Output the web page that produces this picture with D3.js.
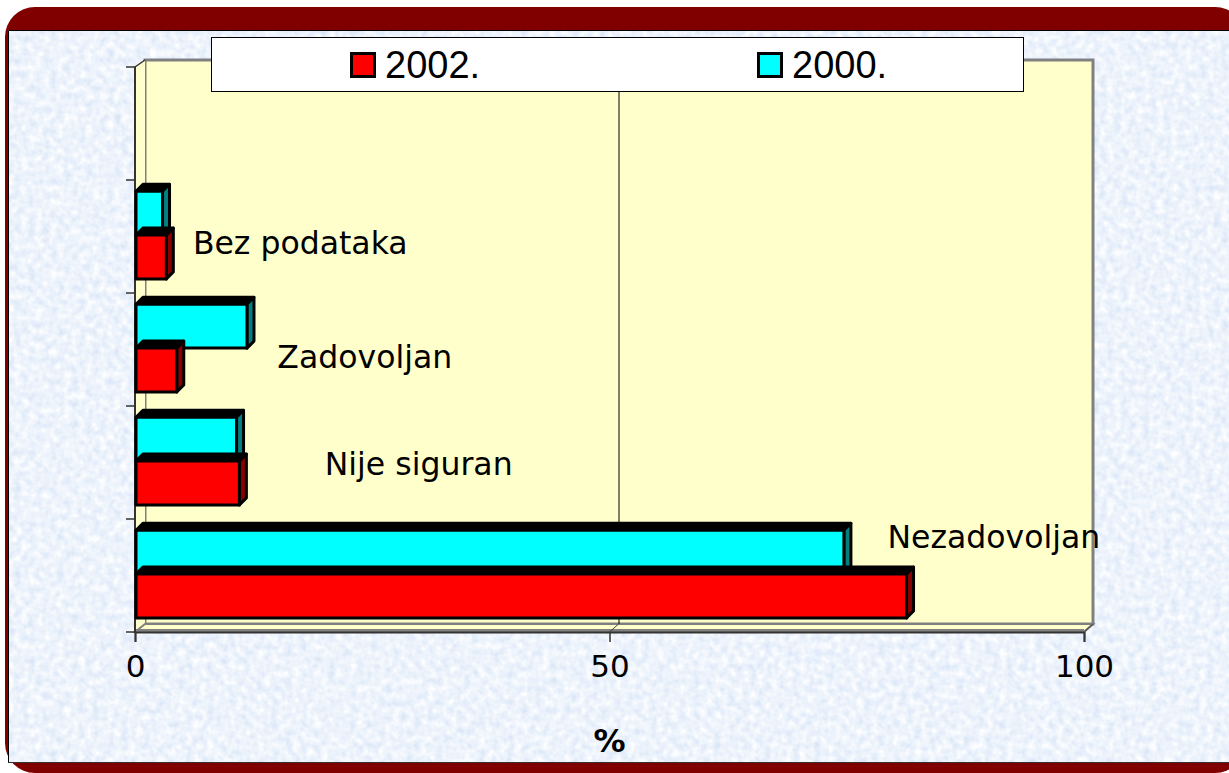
<!DOCTYPE html>
<html>
<head>
<meta charset="utf-8">
<script src="https://cdn.jsdelivr.net/npm/d3@7"></script>
<style>
  html, body { margin: 0; padding: 0; background: #ffffff; }
  svg { display: block; }
</style>
</head>
<body>
<div id="chart"></div>
<script>
// ---- data ----
const categories = ["Nezadovoljan", "Nije siguran", "Zadovoljan", "Bez podataka"];
const seriesNames = ["2002.", "2000."];
const values2002 = [81.3, 11.0, 4.4, 3.3];
const values2000 = [74.7, 10.7, 11.8, 2.9];
const xTickValues = [0, 50, 100];
const axisTitle = "%";

// ---- layout ----
const W = 1229, H = 773;
const depth = 8;
const svg = d3.select("#chart").append("svg").attr("width", W).attr("height", H);

const defs = svg.append("defs");
const f = defs.append("filter").attr("id", "tex").attr("x", 0).attr("y", 0).attr("width", 1).attr("height", 1);
f.append("feTurbulence").attr("type", "fractalNoise").attr("baseFrequency", 0.14).attr("numOctaves", 2).attr("seed", 3).attr("result", "n");
f.append("feColorMatrix").attr("type", "matrix")
  .attr("values", "0.42 0 0 0 0.64  0.30 0 0 0 0.75  0.10 0 0 0 0.92  0 0 0 0 1");

// frame
svg.append("rect").attr("x", 5).attr("y", 7).attr("width", 1240).attr("height", 766).attr("rx", 30).attr("fill", "#800000");
svg.append("rect").attr("x", 8).attr("y", 30).attr("width", 1221).attr("height", 732).attr("fill", "#dbe8f8").attr("filter", "url(#tex)");
svg.append("path").attr("d", "M8.5,762 L8.5,30.5 L1229,30.5").attr("fill", "none").attr("stroke", "#000").attr("stroke-width", 1);
svg.append("line").attr("x1", 8).attr("x2", 1229).attr("y1", 762.5).attr("y2", 762.5).attr("stroke", "#333").attr("stroke-width", 1);

// scales
const x = d3.scaleLinear().domain([0, 100]).range([135, 1084]);
const yDomain = [...categories, ""];
const y = d3.scaleBand().domain(yDomain).range([632, 67]).paddingInner(0).paddingOuter(0);
const ySub = d3.scaleBand().domain(["2000.", "2002."]).range([y.bandwidth() * 0.1, y.bandwidth() * 0.875]);

const pLeft = x(0), pRight = x(100), pTop = y.range()[1], pBottom = y.range()[0];
const bl = pLeft + depth + 2, bt = pTop - 7, bb = pBottom - 8, br = pRight + depth + 1;

// back wall
svg.append("rect").attr("x", bl).attr("y", bt).attr("width", br - bl).attr("height", bb - bt)
  .attr("fill", "#ffffcc").attr("stroke", "#808080").attr("stroke-width", 3);
// side wall
svg.append("path").attr("d", `M${pLeft},${pTop} L${bl},${bt} L${bl},${bb} L${pLeft},${pBottom} Z`).attr("fill", "#ffffcc");
// floor
svg.append("path").attr("d", `M${pLeft},${pBottom} L${bl},${bb} L${br},${bb} L${pRight},${pBottom} Z`)
  .attr("fill", "#ffffcc").attr("stroke", "#808080").attr("stroke-width", 2);
svg.append("line").attr("x1", pLeft).attr("x2", pRight).attr("y1", pBottom - 2).attr("y2", pBottom - 2).attr("stroke", "#808080").attr("stroke-width", 2);

// gridline at 50 (back wall + floor)
xTickValues.filter(v => v > 0 && v < 100).forEach(v => {
  const gx = x(v) + depth + 1;
  svg.append("line").attr("x1", gx + 0.5).attr("x2", gx + 0.5).attr("y1", bt).attr("y2", bb).attr("stroke", "#000").attr("stroke-width", 1);
  svg.append("line").attr("x1", x(v)).attr("x2", gx).attr("y1", pBottom).attr("y2", bb).attr("stroke", "#444").attr("stroke-width", 1);
});

// y axis (front)
const yAxisG = svg.append("g");
yAxisG.append("line").attr("x1", pLeft).attr("x2", pLeft).attr("y1", pTop).attr("y2", pBottom).attr("stroke", "#333").attr("stroke-width", 2);
yAxisG.append("line").attr("x1", pLeft).attr("x2", bl).attr("y1", pTop).attr("y2", bt).attr("stroke", "#333").attr("stroke-width", 1.5);
const yTickPos = yDomain.map(c => y(c)).concat([pBottom]);
yAxisG.selectAll("line.tick").data(yTickPos).enter().append("line").attr("class", "tick")
  .attr("x1", pLeft - 9).attr("x2", pLeft).attr("y1", d => d).attr("y2", d => d).attr("stroke", "#333").attr("stroke-width", 1.5);

// x axis
const xAxisG = svg.append("g").attr("transform", `translate(0,${pBottom})`)
  .call(d3.axisBottom(x).tickValues(xTickValues).tickSize(10).tickPadding(13).tickFormat(d3.format("d")));
xAxisG.select(".domain").attr("stroke", "#333").attr("stroke-width", 2);
xAxisG.selectAll(".tick line").attr("stroke", "#333").attr("stroke-width", 1.5);
xAxisG.selectAll(".tick text").attr("font-family", "DejaVu Sans, Verdana, sans-serif").attr("font-size", 31).attr("fill", "#000");
svg.append("line").attr("x1", pRight).attr("x2", br).attr("y1", pBottom).attr("y2", bb).attr("stroke", "#555").attr("stroke-width", 1.5);

// axis title
svg.append("text").attr("x", x(50)).attr("y", 752).attr("text-anchor", "middle")
  .attr("font-family", "DejaVu Sans, Verdana, sans-serif").attr("font-weight", "bold").attr("font-size", 32).text(axisTitle);

// bars
const fills = { "2002.": "#ff0000", "2000.": "#00ffff" };
const sides = { "2002.": "#8a0000", "2000.": "#008080" };
const valuesBySeries = { "2002.": values2002, "2000.": values2000 };
const bars = [];
categories.forEach((c, i) => {
  ["2000.", "2002."].forEach(s => bars.push({ cat: c, series: s, value: valuesBySeries[s][i] }));
});
// draw from top of chart to bottom
bars.sort((a, b) => (y(a.cat) + ySub(a.series)) - (y(b.cat) + ySub(b.series)));
const dd = 7;
const barG = svg.append("g");
bars.forEach(b => {
  const y0 = y(b.cat) + ySub(b.series), h = ySub.bandwidth();
  const x0 = x(0) + 1, x1 = x(b.value);
  const g = barG.append("g").attr("stroke", "#000").attr("stroke-width", 3).attr("stroke-linejoin", "round");
  g.append("path").attr("d", `M${x0},${y0} L${x0 + dd},${y0 - dd} L${x1 + dd},${y0 - dd} L${x1},${y0} Z`).attr("fill", "#000");
  g.append("path").attr("d", `M${x1},${y0} L${x1 + dd},${y0 - dd} L${x1 + dd},${y0 + h - dd} L${x1},${y0 + h} Z`).attr("fill", sides[b.series]);
  g.append("rect").attr("x", x0).attr("y", y0).attr("width", x1 - x0).attr("height", h).attr("fill", fills[b.series]);
});

// category labels (data labels placed inside plot)
const labelAt = [79.3, 20.0, 15.0, 6.1];          // value units
const labelBandOffset = [0.16, 0.51, 0.57, 0.56]; // fraction of band
categories.forEach((c, i) => {
  svg.append("text").attr("x", x(labelAt[i])).attr("y", y(c) + y.bandwidth() * labelBandOffset[i])
    .attr("dominant-baseline", "central")
    .attr("font-family", "DejaVu Sans, Verdana, sans-serif").attr("font-size", 31.5).attr("fill", "#000").text(c);
});

// legend
const lg = svg.append("g");
lg.append("rect").attr("x", 211.5).attr("y", 37.5).attr("width", 812).attr("height", 54).attr("fill", "#fff").attr("stroke", "#000").attr("stroke-width", 1);
const legendX = d3.scalePoint().domain(seriesNames).range([350, 757]);
seriesNames.forEach(s => {
  const lx = legendX(s);
  lg.append("rect").attr("x", lx + 1.5).attr("y", 53.5).attr("width", 23).attr("height", 23)
    .attr("fill", fills[s]).attr("stroke", "#000").attr("stroke-width", 3);
  lg.append("text").attr("x", lx + 35).attr("y", 78).attr("font-family", "Liberation Sans, Arial, sans-serif")
    .attr("font-size", 38).attr("fill", "#000").text(s);
});
</script>
</body>
</html>
